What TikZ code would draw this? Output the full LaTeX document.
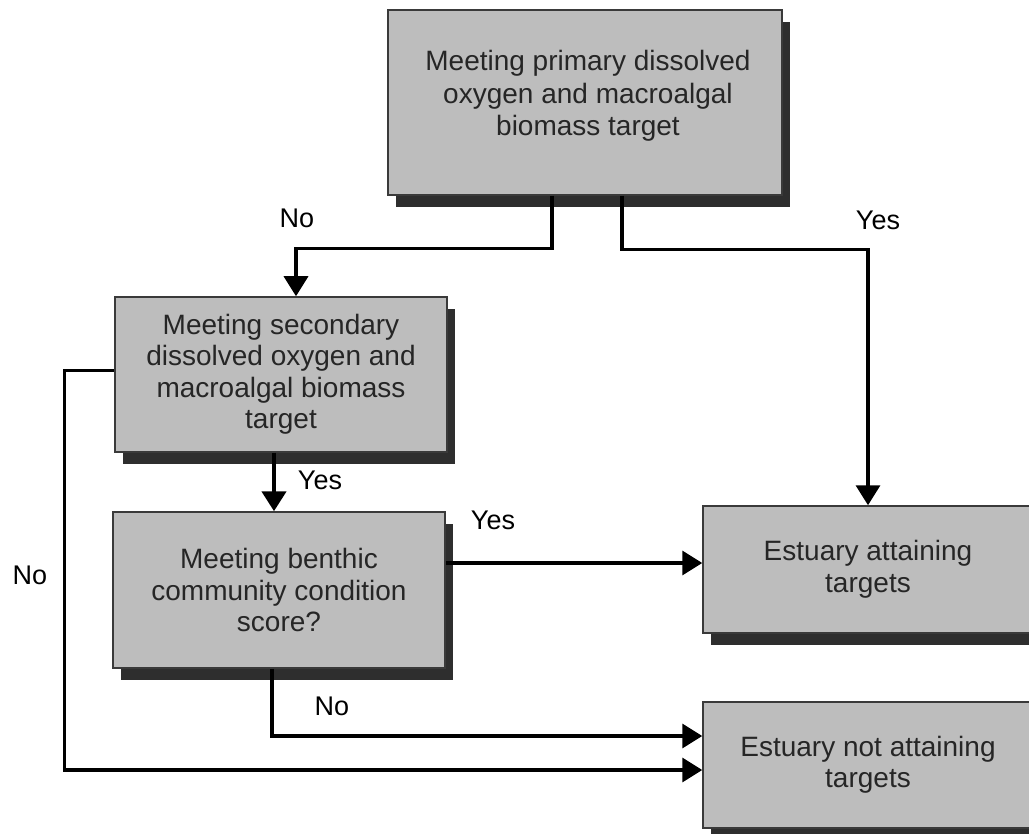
\documentclass[tikz,border=0pt]{standalone}
\usepackage{fontspec}
\setmainfont{Liberation Sans}
\usetikzlibrary{arrows.meta,shadows}
\definecolor{boxfill}{HTML}{BDBDBD}
\definecolor{boxline}{HTML}{3A3A3A}
\definecolor{shadowcol}{HTML}{2E2E2E}
\definecolor{boxtext}{HTML}{262626}
\begin{document}
\begin{tikzpicture}[x=1pt,y=-1pt,
  box/.style={draw=boxline, line width=1.5pt, fill=boxfill, text=boxtext, align=center, inner sep=0pt,
    font=\fontsize{28}{31.5}\selectfont,
    general shadow={shadow xshift=8pt, shadow yshift=-12pt, fill=shadowcol}},
  boxtxt/.style={text=boxtext, align=center, inner sep=0pt, font=\fontsize{28}{32.5}\selectfont},
  conn/.style={line width=3.5pt, draw=black},
  arr/.style={conn, -{Triangle[length=20pt,width=24pt]}},
  lab/.style={font=\fontsize{27}{30}\selectfont, text=black}]
\useasboundingbox (0,0) rectangle (1029,834);
\clip (0,0) rectangle (1029,834);

\node[box, minimum width=394pt, minimum height=185pt] (top) at (585,102.5) {};
\node[boxtxt] (toptxt) at (588,96)
  {Meeting primary dissolved\\oxygen and macroalgal\\biomass target};
\node[box, minimum width=332pt, minimum height=155pt] (sec) at (281,374.5)
  {Meeting secondary\\dissolved oxygen and\\macroalgal biomass\\target};
\node[box, minimum width=332pt, minimum height=156pt] (ben) at (279,590)
  {Meeting benthic\\community condition\\score?};
\node[box, minimum width=330pt, minimum height=127pt] (attain) at (868,569.5)
  {Estuary attaining\\targets};
\node[box, minimum width=330pt, minimum height=126pt] (notat) at (868,765)
  {Estuary not attaining\\targets};

\draw[arr] ([xshift=-33pt]top.south) -- ++(0,53) -| ([xshift=15pt]sec.north);
\draw[arr] ([xshift=37pt]top.south) -- ++(0,54) -| (attain.north);
\draw[arr, line width=4.5pt] ([xshift=-7pt]sec.south) -- ([xshift=-7pt]sec.south |- ben.north);
\draw[arr] ([yshift=27pt]ben.east) -- ([yshift=27pt]ben.east -| attain.west);
\draw[arr] ([xshift=-7pt]ben.south) |- ([yshift=29pt]notat.west);
\draw[arr] ([yshift=4pt]sec.west) -- ++(-50,0) |- ([yshift=-5pt]notat.west);

\node[lab] (l1) at (297,218) {No};
\node[lab] (l2) at (878,220) {Yes};
\node[lab] (l3) at (320,480) {Yes};
\node[lab] (l4) at (493,520) {Yes};
\node[lab] (l5) at (30,575) {No};
\node[lab] (l6) at (332,706) {No};
\end{tikzpicture}
\end{document}
